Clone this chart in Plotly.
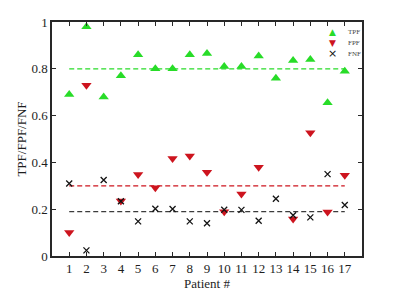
import plotly.graph_objects as go

patients = list(range(1, 18))
tpf = [0.69, 0.98, 0.68, 0.77, 0.86, 0.80, 0.80, 0.86, 0.865, 0.81, 0.81, 0.855, 0.76, 0.835, 0.84, 0.655, 0.79]
fpf = [0.10, 0.73, None, 0.235, 0.348, 0.292, 0.417, 0.427, 0.358, 0.189, 0.265, 0.379, None, 0.158, 0.527, 0.188, 0.345]
fnf = [0.31, 0.024, 0.325, 0.234, 0.148, 0.202, 0.201, 0.148, 0.14, 0.198, 0.197, 0.151, 0.245, 0.174, 0.165, 0.35, 0.218]
mean_tpf = 0.80
mean_fpf = 0.30
mean_fnf = 0.19
series_names = ["TPF", "FPF", "FNF"]

GREEN = "rgb(40,220,40)"
RED = "rgb(205,20,30)"
BLACK = "rgb(20,20,20)"
SERIF = "Liberation Serif, Times New Roman, serif"

fig = go.Figure()
for m, c in [(mean_tpf, GREEN), (mean_fpf, RED), (mean_fnf, "rgb(60,60,60)")]:
    fig.add_trace(go.Scatter(x=[patients[0], patients[-1]], y=[m, m], mode="lines",
                             line=dict(color=c, width=1.3, dash="5px,3px"), showlegend=False,
                             hoverinfo="skip"))

fig.add_trace(go.Scatter(x=patients, y=tpf, mode="markers", name=series_names[0], showlegend=False,
                         marker=dict(symbol="triangle-up", size=9, color=GREEN)))
fig.add_trace(go.Scatter(x=patients, y=fpf, mode="markers", name=series_names[1], showlegend=False,
                         marker=dict(symbol="triangle-down", size=9, color=RED)))
fig.add_trace(go.Scatter(x=patients, y=fnf, mode="markers", name=series_names[2], showlegend=False,
                         marker=dict(symbol="x-thin-open", size=6, color=BLACK,
                                     line=dict(color=BLACK, width=1.3))))

axis_common = dict(showline=True, linecolor="rgb(40,40,40)", linewidth=1.5, mirror="allticks",
                   ticks="inside", ticklen=4, tickwidth=1, tickcolor="rgb(40,40,40)",
                   showgrid=False, zeroline=False, automargin=False,
                   tickfont=dict(family=SERIF, size=13, color="rgb(30,30,30)"))

fig.update_xaxes(range=[0, 18], tickvals=patients, ticktext=[str(p) for p in patients],
                 title=dict(text="Patient #", font=dict(family=SERIF, size=13, color="rgb(30,30,30)"),
                            standoff=0),
                 **axis_common)
fig.update_yaxes(range=[0, 1], tickvals=[0, 0.2, 0.4, 0.6, 0.8, 1],
                 ticktext=["0", "0.2", "0.4", "0.6", "0.8", "1"],
                 title=dict(text="TPF/FPF/FNF", font=dict(family=SERIF, size=13, color="rgb(30,30,30)"),
                            standoff=2),
                 **axis_common)

# manual compact legend (paper coordinates)
legend_syms = [("▲", GREEN), ("▼", RED), ("×", BLACK)]
for i, (name, (sym, col)) in enumerate(zip(series_names, legend_syms)):
    ypos = 0.958 - i * 0.047
    fig.add_annotation(xref="paper", yref="paper", x=0.905, y=ypos, text=sym, showarrow=False,
                       font=dict(family="DejaVu Sans", size=9 if i < 2 else 11, color=col),
                       xanchor="center", yanchor="middle")
    fig.add_annotation(xref="paper", yref="paper", x=0.948, y=ypos, text=name, showarrow=False,
                       font=dict(family=SERIF, size=7, color="rgb(70,70,70)"),
                       xanchor="left", yanchor="middle")

fig.update_layout(
    width=400, height=293,
    margin=dict(l=52, r=38, t=22, b=37),
    plot_bgcolor="white", paper_bgcolor="white",
    showlegend=False,
)

fig.write_html("out.html", config={"displayModeBar": False},
               post_script="document.body.style.margin='0';")
